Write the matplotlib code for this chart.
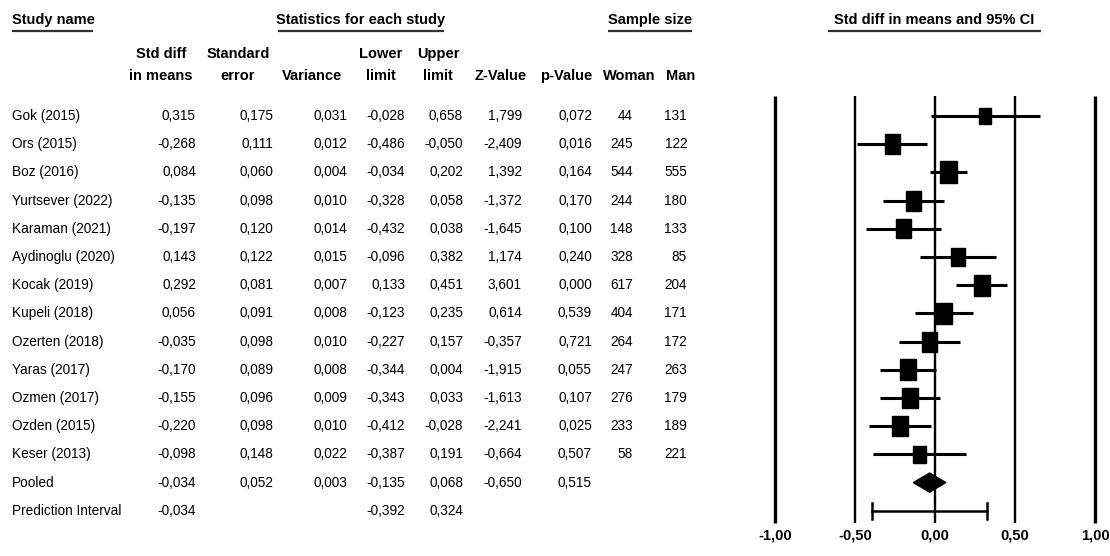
import numpy as np
import matplotlib
matplotlib.use('Agg')
import matplotlib.pyplot as plt
from matplotlib.patches import Rectangle, Polygon

# Dados do forest plot
studies = ['Gok (2015)', 'Ors (2015)', 'Boz (2016)', 'Yurtsever (2022)', 'Karaman (2021)',
           'Aydinoglu (2020)', 'Kocak (2019)', 'Kupeli (2018)', 'Ozerten (2018)', 'Yaras (2017)',
           'Ozmen (2017)', 'Ozden (2015)', 'Keser (2013)']
std_diff = [0.315, -0.268, 0.084, -0.135, -0.197, 0.143, 0.292, 0.056, -0.035, -0.170, -0.155, -0.220, -0.098]
std_err = [0.175, 0.111, 0.060, 0.098, 0.120, 0.122, 0.081, 0.091, 0.098, 0.089, 0.096, 0.098, 0.148]
variance = [0.031, 0.012, 0.004, 0.010, 0.014, 0.015, 0.007, 0.008, 0.010, 0.008, 0.009, 0.010, 0.022]
lower = [-0.028, -0.486, -0.034, -0.328, -0.432, -0.096, 0.133, -0.123, -0.227, -0.344, -0.343, -0.412, -0.387]
upper = [0.658, -0.050, 0.202, 0.058, 0.038, 0.382, 0.451, 0.235, 0.157, 0.004, 0.033, -0.028, 0.191]
z_value = [1.799, -2.409, 1.392, -1.372, -1.645, 1.174, 3.601, 0.614, -0.357, -1.915, -1.613, -2.241, -0.664]
p_value = [0.072, 0.016, 0.164, 0.170, 0.100, 0.240, 0.000, 0.539, 0.721, 0.055, 0.107, 0.025, 0.507]
woman = [44, 245, 544, 244, 148, 328, 617, 404, 264, 247, 276, 233, 58]
man = [131, 122, 555, 180, 133, 85, 204, 171, 172, 263, 179, 189, 221]

pooled = dict(est=-0.034, se=0.052, var=0.003, lo=-0.135, hi=0.068, z=-0.650, p=0.515)
pred_lo, pred_hi = -0.392, 0.324
tau2 = 0.024  # heterogeneidade aproximada (para o tamanho dos quadrados)

axis_ticks = [-1.0, -0.5, 0.0, 0.5, 1.0]

plt.rcParams['font.family'] = ['Liberation Sans', 'DejaVu Sans']


def fmt(v):
    return f'{v:.3f}'.replace('.', ',')


W, H = 1110, 556
fig = plt.figure(figsize=(W / 100, H / 100), dpi=100)

# linhas: y em pixels -> unidades de linha
y0, dy = 116, 28.2
ylim = ((H - y0) / dy, -y0 / dy)

# eixo da tabela (x em pixels)
tab = fig.add_axes([0, 0, 1, 1])
tab.set_xlim(0, W)
tab.set_ylim(*ylim)
tab.axis('off')

fs = 9.8
hfs = 10.5


def header(x, r, txt, ha='center'):
    tab.text(x, r, txt, ha=ha, va='center', fontsize=hfs, fontweight='bold')


r_title = (20 - y0) / dy
r_ul = (31 - y0) / dy
header(12, r_title, 'Study name', ha='left')
header(361, r_title, 'Statistics for each study')
header(650, r_title, 'Sample size')
header(934, r_title, 'Std diff in means and 95% CI')
for x1, x2 in [(12, 93), (278, 444), (608, 692), (828, 1041)]:
    tab.plot([x1, x2], [r_ul, r_ul], color='#333333', lw=1.6, solid_capstyle='butt')

r_h1 = (54 - y0) / dy
r_h2 = (76 - y0) / dy
col_right = [196, 273, 347, 405, 463, 522, 592, 633, 687]
col_head = [('Std diff', 'in means', 161), ('Standard', 'error', 238), ('', 'Variance', 312),
            ('Lower', 'limit', 381), ('Upper', 'limit', 438), ('', 'Z-Value', 501),
            ('', 'p-Value', 566), ('', 'Woman', 629), ('', 'Man', 681)]
for l1, l2, xc in col_head:
    if l1:
        header(xc, r_h1, l1)
    header(xc, r_h2, l2)

for i, name in enumerate(studies):
    vals = [fmt(std_diff[i]), fmt(std_err[i]), fmt(variance[i]), fmt(lower[i]), fmt(upper[i]),
            fmt(z_value[i]), fmt(p_value[i]), str(woman[i]), str(man[i])]
    tab.text(12, i, name, ha='left', va='center', fontsize=fs)
    for x, v in zip(col_right, vals):
        tab.text(x, i, v, ha='right', va='center', fontsize=fs)

n = len(studies)
tab.text(12, n, 'Pooled', ha='left', va='center', fontsize=fs)
pool_vals = [pooled['est'], pooled['se'], pooled['var'], pooled['lo'], pooled['hi'], pooled['z'], pooled['p']]
for x, v in zip(col_right, pool_vals):
    tab.text(x, n, fmt(v), ha='right', va='center', fontsize=fs)
tab.text(12, n + 1, 'Prediction Interval', ha='left', va='center', fontsize=fs)
for x, v in zip([col_right[0], col_right[3], col_right[4]], [pooled['est'], pred_lo, pred_hi]):
    tab.text(x, n + 1, fmt(v), ha='right', va='center', fontsize=fs)

# eixo do forest plot: 160 px por unidade, zero em x=935
ax = fig.add_axes([767 / W, 0, 336 / W, 1])
ax.set_xlim(-1.05, 1.05)
ax.set_ylim(*ylim)
ax.axis('off')
ax.patch.set_alpha(0)

r_top = (96 - y0) / dy
r_bot = (523 - y0) / dy
for t in axis_ticks:
    lw = 2.4 if abs(t) == 1 else 1.7
    ax.plot([t, t], [r_top, r_bot], color='black', lw=lw, solid_capstyle='butt', zorder=1)
    ax.text(t, (536 - y0) / dy, f'{t:.2f}'.replace('.', ','), ha='center', va='center',
            fontsize=hfs, fontweight='bold')

px_unit = 160.0
for i in range(n):
    ax.plot([lower[i], upper[i]], [i, i], color='black', lw=2.2, solid_capstyle='butt', zorder=2)
    w = 1.0 / (variance[i] + tau2)
    side_px = 2.85 * np.sqrt(w)
    bw = side_px / px_unit
    bh = side_px * 1.3 / dy
    ax.add_patch(Rectangle((std_diff[i] - bw / 2, i - bh / 2), bw, bh, color='black', zorder=3))

# diamante do efeito combinado
hd = 0.34
ax.add_patch(Polygon([[pooled['lo'], n], [pooled['est'], n - hd], [pooled['hi'], n], [pooled['est'], n + hd]],
                     closed=True, color='black', zorder=3))

# intervalo de predicao
cap = 0.29
ax.plot([pred_lo, pred_hi], [n + 1, n + 1], color='black', lw=1.8, zorder=2)
for x in [pred_lo, pred_hi]:
    ax.plot([x, x], [n + 1 - cap, n + 1 + cap], color='black', lw=1.8, zorder=2)

fig.savefig('out.png', dpi=100)
